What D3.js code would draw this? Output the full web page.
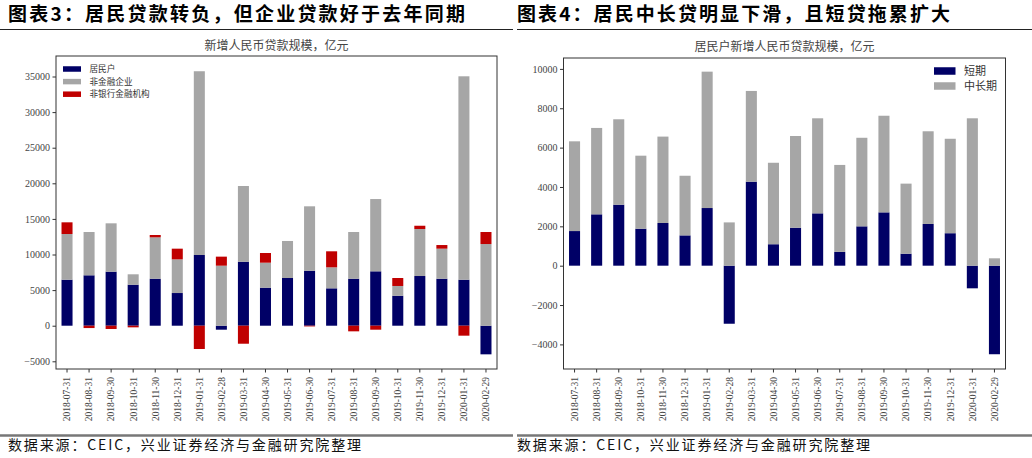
<!DOCTYPE html>
<html>
<head>
<meta charset="utf-8">
<script src="https://cdn.jsdelivr.net/npm/d3@7"></script>
<style>
  body { margin: 0; background: #fff; }
  svg { display: block; }
</style>
</head>
<body>
<svg id="chart" width="1032" height="458"></svg>
<script>
"use strict";

// dates des barres (communes aux deux graphiques)
var dates = ["2018-07-31", "2018-08-31", "2018-09-30", "2018-10-31", "2018-11-30", "2018-12-31",
  "2019-01-31", "2019-02-28", "2019-03-31", "2019-04-30", "2019-05-31", "2019-06-30",
  "2019-07-31", "2019-08-31", "2019-09-30", "2019-10-31", "2019-11-30", "2019-12-31",
  "2020-01-31", "2020-02-29"];

// graphique de gauche : nouveaux prêts en RMB (亿元)
var household = [6460, 7080, 7590, 5760, 6600, 4590, 9930, -560, 8990, 5340,
  6700, 7720, 5250, 6600, 7640, 4210, 6980, 6600, 6460, -4020];
var corporate = [6420, 6080, 6790, 1460, 5810, 4730, 25810, 8430, 10630, 3510,
  5200, 9050, 2950, 6560, 10150, 1370, 6600, 4220, 28570, 11470];
var nonbank = [1640, -330, -460, -230, 330, 1500, -3270, 1270, -2530, 1360,
  0, -100, 2250, -790, -560, 1120, 460, 510, -1400, 1690];
var leftTicks = [-5000, 0, 5000, 10000, 15000, 20000, 25000, 30000, 35000];

// graphique de droite : ménages, court terme / moyen-long terme
var shortTerm = [1760, 2610, 3100, 1880, 2170, 1540, 2930, -2950, 4270, 1090,
  1930, 2660, 700, 2000, 2710, 610, 2120, 1650, -1150, -4500];
var midLong = [4560, 4390, 4340, 3710, 4390, 3030, 6930, 2200, 4610, 4140,
  4660, 4830, 4420, 4500, 4910, 3560, 4710, 4800, 7490, 375];
var rightTicks = [-4000, -2000, 0, 2000, 4000, 6000, 8000, 10000];

var NAVY = "#000066", GRAY = "#a6a6a6", RED = "#c00000";
var SERIF = "'Liberation Serif', 'DejaVu Serif', serif";
var CJK = "'Noto Sans CJK SC', sans-serif";

var svg = d3.select("#chart");

/**
 * Dessine un graphique à barres empilées (positif vers le haut, négatif vers le bas).
 */
function drawChart(cfg) {
  var rows = dates.map(function(d, i) {
    var r = { date: d };
    cfg.series.forEach(function(s) { r[s.key] = s.values[i]; });
    return r;
  });

  var x = d3.scaleBand()
    .domain(dates)
    .range([cfg.left, cfg.right])
    .paddingInner(0.5)
    .paddingOuter(0.25);

  var y = d3.scaleLinear()
    .domain(cfg.domain)
    .range([cfg.bottom, cfg.top]);

  var stack = d3.stack()
    .keys(cfg.series.map(function(s) { return s.key; }))
    .offset(d3.stackOffsetDiverging);

  var g = svg.append("g");

  g.selectAll("g.layer")
    .data(stack(rows))
    .enter()
    .append("g")
      .attr("class", "layer")
      .attr("fill", function(d, i) { return cfg.series[i].color; })
    .selectAll("rect")
    .data(function(d) { return d; })
    .enter()
    .append("rect")
      .attr("x", function(d) { return x(d.data.date); })
      .attr("width", x.bandwidth())
      .attr("y", function(d) { return y(Math.max(d[0], d[1])); })
      .attr("height", function(d) { return Math.abs(y(d[0]) - y(d[1])); });

  // axe Y
  var yAxis = g.append("g")
    .attr("transform", "translate(" + cfg.left + ",0)")
    .call(d3.axisLeft(y).tickValues(cfg.ticks).tickSize(3.5).tickPadding(2.5).tickFormat(d3.format("d")));
  yAxis.select(".domain").remove();
  yAxis.selectAll("line").attr("stroke", "#333");
  yAxis.selectAll("text")
    .attr("font-family", SERIF)
    .attr("font-size", 10)
    .attr("fill", "#444");

  // axe X
  var xAxis = g.append("g")
    .attr("transform", "translate(0," + cfg.bottom + ")")
    .call(d3.axisBottom(x).tickSize(3.5).tickPadding(4));
  xAxis.select(".domain").remove();
  xAxis.selectAll("line").attr("stroke", "#333");
  xAxis.selectAll("text")
    .attr("font-family", SERIF)
    .attr("font-size", 9.5)
    .attr("fill", "#444")
    .attr("transform", "rotate(-90)")
    .attr("x", -8)
    .attr("y", 0)
    .attr("dy", "0.35em")
    .attr("text-anchor", "end");

  // cadre
  g.append("rect")
    .attr("x", cfg.left)
    .attr("y", cfg.top)
    .attr("width", cfg.right - cfg.left)
    .attr("height", cfg.bottom - cfg.top)
    .attr("fill", "none")
    .attr("stroke", "#333")
    .attr("stroke-width", 1);

  // titre
  g.append("text")
    .attr("x", (cfg.left + cfg.right) / 2)
    .attr("y", cfg.titleY)
    .attr("text-anchor", "middle")
    .attr("font-family", CJK)
    .attr("font-size", 12)
    .attr("fill", "#444")
    .text(cfg.title);

  // légende
  var leg = g.append("g")
    .selectAll("g")
    .data(cfg.series)
    .enter()
    .append("g")
      .attr("transform", function(d, i) {
        return "translate(" + cfg.legend.x + "," + (cfg.legend.y + i * cfg.legend.step) + ")";
      });
  leg.append("rect")
    .attr("x", 0)
    .attr("y", -cfg.legend.h / 2)
    .attr("width", cfg.legend.w)
    .attr("height", cfg.legend.h)
    .attr("fill", function(d) { return d.color; });
  leg.append("text")
    .attr("x", cfg.legend.w + cfg.legend.gap)
    .attr("y", 0)
    .attr("dy", "0.35em")
    .attr("font-family", CJK)
    .attr("font-size", cfg.legend.fs)
    .attr("fill", "#333")
    .text(function(d) { return d.name; });
}

drawChart({
  left: 56, right: 497, top: 56, bottom: 369,
  domain: [-6080, 37880],
  ticks: leftTicks,
  title: "新增人民币贷款规模，亿元",
  titleY: 50,
  series: [
    { key: "hh", name: "居民户", color: NAVY, values: household },
    { key: "corp", name: "非金融企业", color: GRAY, values: corporate },
    { key: "nb", name: "非银行金融机构", color: RED, values: nonbank }
  ],
  legend: { x: 63, y: 69, step: 12.6, w: 18, h: 5.5, gap: 8.5, fs: 8.6 }
});

drawChart({
  left: 563.5, right: 1005.5, top: 58, bottom: 369,
  domain: [-5250, 10554],
  ticks: rightTicks,
  title: "居民户新增人民币贷款规模，亿元",
  titleY: 51,
  series: [
    { key: "st", name: "短期", color: NAVY, values: shortTerm },
    { key: "ml", name: "中长期", color: GRAY, values: midLong }
  ],
  legend: { x: 934, y: 71, step: 15, w: 21.5, h: 7.5, gap: 8.5, fs: 11 }
});

// en-têtes et sources
var headers = [
  { x: 8, w: 457, lineX0: 0, lineX1: 513, text: "图表3：居民贷款转负，但企业贷款好于去年同期",
    src: "数据来源：CEIC，兴业证券经济与金融研究院整理", srcW: 353 },
  { x: 517, w: 433, lineX0: 517, lineX1: 1032, text: "图表4：居民中长贷明显下滑，且短贷拖累扩大",
    src: "数据来源：CEIC，兴业证券经济与金融研究院整理", srcW: 353 }
];

headers.forEach(function(h) {
  svg.append("text")
    .attr("x", h.x)
    .attr("y", 21)
    .attr("font-family", CJK)
    .attr("font-weight", "bold")
    .attr("font-size", 19)
    .attr("fill", "#000")
    .attr("textLength", h.w)
    .attr("lengthAdjust", "spacing")
    .text(h.text);
  svg.append("line")
    .attr("x1", h.lineX0).attr("x2", h.lineX1)
    .attr("y1", 29.5).attr("y2", 29.5)
    .attr("stroke", "#222")
    .attr("stroke-width", 1.2);
  svg.append("line")
    .attr("x1", h.lineX0).attr("x2", h.lineX1)
    .attr("y1", 435.5).attr("y2", 435.5)
    .attr("stroke", "#777")
    .attr("stroke-width", 2.5);
  svg.append("text")
    .attr("x", h.x)
    .attr("y", 450)
    .attr("font-family", CJK)
    .attr("font-size", 14)
    .attr("fill", "#111")
    .attr("textLength", h.srcW)
    .attr("lengthAdjust", "spacing")
    .text(h.src);
});
</script>
</body>
</html>
